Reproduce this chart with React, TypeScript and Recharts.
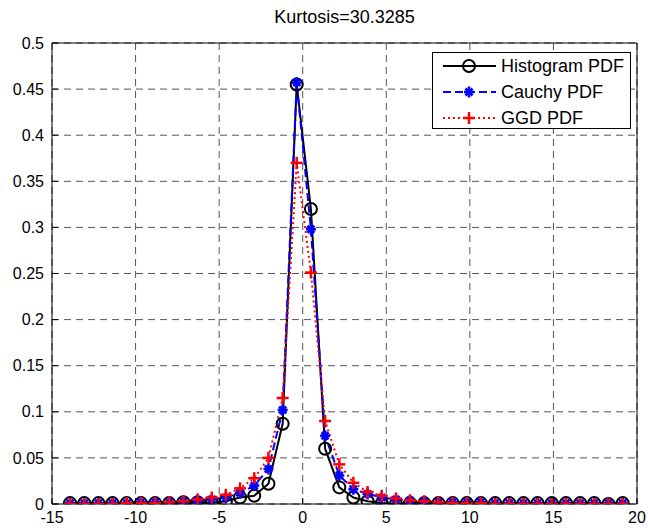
import React from 'react';
import { LineChart, Line, XAxis, YAxis, CartesianGrid, ReferenceArea } from 'recharts';

// bin centres of the histogram (x axis)
const binCenters = [
  -13.92, -13.07, -12.22, -11.38, -10.53, -9.68, -8.83, -7.99, -7.14, -6.29,
  -5.44, -4.6, -3.75, -2.9, -2.05, -1.2, -0.36, 0.49, 1.34, 2.19,
  3.03, 3.88, 4.73, 5.58, 6.42, 7.27, 8.12, 8.97, 9.82, 10.66,
  11.51, 12.36, 13.21, 14.05, 14.9, 15.75, 16.6, 17.44, 18.29, 19.14,
];

const histogramPdf = [
  0.001, 0.001, 0.001, 0.001, 0.001, 0.001, 0.001, 0.001, 0.002, 0.002,
  0.001, 0.003, 0.007, 0.009, 0.022, 0.087, 0.455, 0.32, 0.06, 0.018,
  0.007, 0.003, 0.001, 0.0, 0.001, 0.001, 0.001, 0.001, 0.001, 0.001,
  0.001, 0.001, 0.001, 0.001, 0.001, 0.001, 0.001, 0.001, 0.0, 0.001,
];

const cauchyPdf = [
  0.001, 0.001, 0.001, 0.001, 0.001, 0.002, 0.002, 0.002, 0.003, 0.004,
  0.005, 0.007, 0.012, 0.02, 0.038, 0.102, 0.457, 0.298, 0.074, 0.031,
  0.016, 0.011, 0.007, 0.005, 0.004, 0.003, 0.002, 0.002, 0.002, 0.002,
  0.001, 0.001, 0.001, 0.001, 0.001, 0.001, 0.001, 0.001, 0.001, 0.001,
];

const ggdPdf = [
  0.0, 0.0, 0.0, 0.0, 0.001, 0.001, 0.001, 0.002, 0.003, 0.005,
  0.007, 0.01, 0.017, 0.028, 0.05, 0.115, 0.37, 0.251, 0.09, 0.043,
  0.023, 0.013, 0.009, 0.006, 0.004, 0.003, 0.002, 0.001, 0.001, 0.001,
  0.0, 0.0, 0.0, 0.0, 0.0, 0.0, 0.0, 0.0, 0.0, 0.0,
];

const xTicks = [-15, -10, -5, 0, 5, 10, 15, 20];
const yTicks = [0, 0.05, 0.1, 0.15, 0.2, 0.25, 0.3, 0.35, 0.4, 0.45, 0.5];

const title = 'Kurtosis=30.3285';
const FONT = '"Liberation Sans", Arial, sans-serif';

const data = binCenters.map((x, i) => ({
  x,
  hist: histogramPdf[i],
  cauchy: cauchyPdf[i],
  ggd: ggdPdf[i],
}));

// matlab style markers
const CircleMark = ({ cx, cy }: any) => (
  <circle cx={cx} cy={cy} r={6} fill="none" stroke="#000" strokeWidth={2} />
);

const StarMark = ({ cx, cy }: any) => (
  <g stroke="#0000ff" strokeWidth={2.6}>
    <line x1={cx - 5} x2={cx + 5} y1={cy} y2={cy} />
    <line x1={cx} x2={cx} y1={cy - 5.5} y2={cy + 5.5} />
    <line x1={cx - 3.5} x2={cx + 3.5} y1={cy - 3.5} y2={cy + 3.5} />
    <line x1={cx - 3.5} x2={cx + 3.5} y1={cy + 3.5} y2={cy - 3.5} />
  </g>
);

const PlusMark = ({ cx, cy }: any) => (
  <g stroke="#ff0000" strokeWidth={2.5}>
    <line x1={cx - 6} x2={cx + 6} y1={cy} y2={cy} />
    <line x1={cx} x2={cx} y1={cy - 6} y2={cy + 6} />
  </g>
);

const series = [
  { key: 'hist', name: 'Histogram PDF', color: '#000000', dash: undefined, Mark: CircleMark },
  { key: 'cauchy', name: 'Cauchy PDF', color: '#0000ff', dash: '8 4', Mark: StarMark },
  { key: 'ggd', name: 'GGD PDF', color: '#ff0000', dash: '2 3', Mark: PlusMark },
];

// tick label + short inward tick, like matlab
const BottomTick = ({ x, y, payload }: any) => (
  <g>
    <line x1={x} x2={x} y1={y - 8} y2={y - 14} stroke="#000" />
    <text x={x} y={y} dy="0.71em" textAnchor="middle" fontSize={16} fontFamily={FONT} fill="#000">
      {String(payload.value)}
    </text>
  </g>
);

const LeftTick = ({ x, y, payload }: any) => (
  <g>
    <line x1={x + 8} x2={x + 14} y1={y} y2={y} stroke="#000" />
    <text x={x} y={y} dy="0.355em" textAnchor="end" fontSize={16} fontFamily={FONT} fill="#000">
      {String(+Number(payload.value).toFixed(2))}
    </text>
  </g>
);

const TopTick = ({ x, y }: any) => <line x1={x} x2={x} y1={y} y2={y + 6} stroke="#000" />;
const RightTick = ({ x, y }: any) => <line x1={x} x2={x - 6} y1={y} y2={y} stroke="#000" />;

const LegendBox = () => (
  <div
    style={{
      position: 'absolute',
      left: 432,
      top: 52,
      width: 197,
      height: 75,
      border: '1px solid #000',
      background: '#fff',
      fontFamily: FONT,
      fontSize: 18,
    }}
  >
    {series.map((s, i) => (
      <div key={s.key} style={{ position: 'absolute', left: 0, top: 1 + i * 26, height: 24, display: 'flex', alignItems: 'center' }}>
        <svg width={68} height={24}>
          <line x1={10} x2={63} y1={12} y2={12} stroke={s.color} strokeWidth={2} strokeDasharray={s.dash} />
          <s.Mark cx={36} cy={12} />
        </svg>
        <span style={{ whiteSpace: 'nowrap' }}>{s.name}</span>
      </div>
    ))}
  </div>
);

export default function App() {
  return (
    <div style={{ position: 'absolute', left: 0, top: 0, width: 648, height: 530, background: '#fff' }}>
      <div
        style={{
          position: 'absolute',
          left: 52,
          width: 585,
          top: 7,
          textAlign: 'center',
          fontFamily: FONT,
          fontSize: 18,
          color: '#000',
        }}
      >
        {title}
      </div>
      <LineChart width={648} height={530} data={data} margin={{ top: 43, right: 11, bottom: 4, left: 0 }}>
        <CartesianGrid stroke="#555" strokeDasharray="7 5" />
        <XAxis
          dataKey="x"
          type="number"
          domain={[-15, 20]}
          ticks={xTicks}
          allowDataOverflow
          axisLine={false}
          tickLine={false}
          tickSize={6}
          tickMargin={2}
          height={22}
          tick={<BottomTick />}
        />
        <XAxis
          xAxisId="top"
          orientation="top"
          dataKey="x"
          type="number"
          domain={[-15, 20]}
          ticks={xTicks}
          axisLine={false}
          tickLine={false}
          tickSize={0}
          tickMargin={0}
          height={0}
          tick={<TopTick />}
        />
        <YAxis
          type="number"
          domain={[0, 0.5]}
          ticks={yTicks}
          allowDataOverflow
          axisLine={false}
          tickLine={false}
          tickSize={6}
          tickMargin={2}
          width={52}
          tick={<LeftTick />}
        />
        <YAxis
          yAxisId="right"
          orientation="right"
          type="number"
          domain={[0, 0.5]}
          ticks={yTicks}
          axisLine={false}
          tickLine={false}
          tickSize={0}
          tickMargin={0}
          width={0}
          tick={<RightTick />}
        />
        <ReferenceArea x1={-15} x2={20} y1={0} y2={0.5} fill="none" stroke="#000" strokeWidth={1} />
        {series.map((s) => (
          <Line
            key={s.key}
            dataKey={s.key}
            name={s.name}
            type="linear"
            stroke={s.color}
            strokeWidth={2}
            strokeDasharray={s.dash}
            isAnimationActive={false}
            dot={(p: any) => <s.Mark key={`${s.key}-${p.index}`} cx={p.cx} cy={p.cy} />}
            activeDot={false}
          />
        ))}
      </LineChart>
      <LegendBox />
    </div>
  );
}
